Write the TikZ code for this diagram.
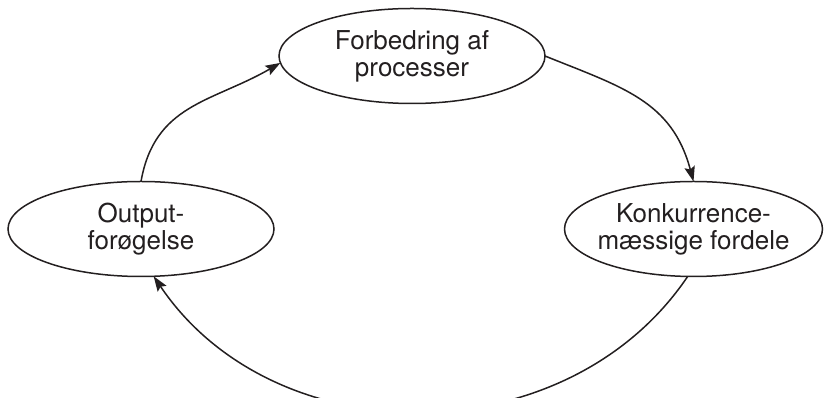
\documentclass[tikz,border=0pt]{standalone}
\usepackage{fontspec}
\setmainfont{TeX Gyre Heros}
\usetikzlibrary{shapes.geometric,arrows.meta}
\definecolor{ink}{RGB}{35,31,32}
\begin{document}
\begin{tikzpicture}[x=1pt,y=1pt,
  oval/.style={draw=ink,line width=1.5pt,ellipse,inner sep=0pt,outer sep=0pt,
    minimum width=266pt,minimum height=95pt},
  ovaltext/.style={text=ink,align=center,inner sep=0pt,
    font=\fontsize{26}{27}\selectfont},
  flow/.style={draw=ink,line width=1.5pt,
    -{Stealth[length=15pt,width=10.5pt,inset=2.5pt]}}]
\useasboundingbox (0,0) rectangle (824,398);

% the three stages of the cycle
\node[oval] (top) at (412,342) {};
\node[oval] (left) at (141,169) {};
\node[oval,minimum width=258pt] (right) at (693.5,169) {};

\node[ovaltext] at (top) {Forbedring af\\processer};
\node[ovaltext] at (left) {Output-\\forøgelse};
\node[ovaltext] at (right) {Konkurrence-\\mæssige fordele};

% arrows running clockwise round the cycle
\draw[flow] (left.north) to[out=80,in=210,looseness=1.1] (top.183);
\draw[flow] (top.east) to[out=-22,in=105,looseness=1.1] (right.north);
\draw[flow] (right.263) to[out=-124,in=-56,looseness=1.04] (left.285);
\end{tikzpicture}
\end{document}
